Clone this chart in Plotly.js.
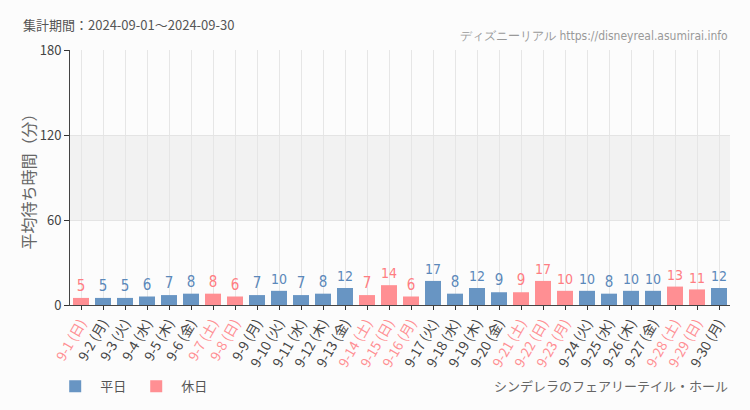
<!DOCTYPE html>
<html><head><meta charset="utf-8">
<script src="https://cdn.plot.ly/plotly-3.0.1.min.js"></script>
<style>body{margin:0;background:#fcfcfc}#c{width:750px;height:410px}</style>
</head><body><div id="c"></div>
<script>
const dates = ["9-1","9-2","9-3","9-4","9-5","9-6","9-7","9-8","9-9","9-10","9-11","9-12","9-13","9-14","9-15","9-16","9-17","9-18","9-19","9-20","9-21","9-22","9-23","9-24","9-25","9-26","9-27","9-28","9-29","9-30"];
const weekdays = ["日","月","火","水","木","金","土","日","月","火","水","木","金","土","日","月","火","水","木","金","土","日","月","火","水","木","金","土","日","月"];
const holiday = [1,0,0,0,0,0,1,1,0,0,0,0,0,1,1,1,0,0,0,0,1,1,1,0,0,0,0,1,1,0];
const waits = [5,5,5,6,7,8,8,6,7,10,7,8,12,7,14,6,17,8,12,9,9,17,10,10,8,10,10,13,11,12];
const yTicks = [0,60,120,180];

const BLUE = "#6895c3", PINK = "#ff8f93", BLUE_T = "#5b88ba", PINK_T = "#ff7d82";
const labels = dates.map((d,i)=>{
  const col = holiday[i] ? PINK : "#444";
  return `<span style="color:${col}">${d} (${weekdays[i]})</span>`;
});
function series(flag){
  return waits.map((v,i)=> holiday[i]===flag ? v : null);
}
const font = "'Noto Sans CJK JP', 'Noto Sans', sans-serif";
const numFont = "'DejaVu Sans Condensed', 'Liberation Sans Narrow', sans-serif";
const mk = (flag,name,color,tcolor)=>({
  type:"bar", x:dates, y:series(flag), name:name,
  marker:{color:color},
  text:series(flag).map(v=>v===null?"":String(v)),
  textposition:"outside", cliponaxis:false,
  textfont:{family:numFont,size:15,color:tcolor},
  hoverinfo:"skip"
});
const data = [mk(0,"平日",BLUE,BLUE_T), mk(1,"休日",PINK,PINK_T)];
const layout = {
  width:750,height:410,
  margin:{l:70,r:20,t:50,b:105,autoexpand:false},
  paper_bgcolor:"#fcfcfc", plot_bgcolor:"#fcfcfc",
  barmode:"overlay", bargap:0.27,
  showlegend:true,
  legend:{orientation:"h",x:-0.03,y:-0.26,xanchor:"left",yanchor:"top",
          font:{family:font,size:13,color:"#555"},itemwidth:40,tracegroupgap:0},
  xaxis:{type:"category",tickmode:"array",tickvals:dates,ticktext:labels,automargin:false,
         tickangle:-60,tickfont:{family:font,size:13.5},ticks:"outside",ticklen:4,
         tickcolor:"#333",showline:true,linecolor:"#444",linewidth:1,
         showgrid:true,gridcolor:"#e6e6e6",range:[-0.5,29.5]},
  yaxis:{range:[0,180],tickvals:yTicks,ticks:"outside",ticklen:5,tickcolor:"#333",automargin:false,
         showline:true,linecolor:"#444",linewidth:1,showgrid:true,gridcolor:"#e4e4e4",
         tickfont:{family:font,size:13,color:"#444"},zeroline:false,
         title:{text:"平均待ち時間（分）",font:{family:font,size:16,color:"#666"},standoff:0}},
  shapes:[{type:"rect",xref:"paper",x0:0,x1:1,yref:"y",y0:60,y1:120,
           fillcolor:"#f2f2f2",line:{width:0},layer:"below"}],
  annotations:[
    {text:"集計期間：2024-09-01～2024-09-30",xref:"paper",yref:"paper",x:-0.075,y:1.1,
     xanchor:"left",yanchor:"middle",showarrow:false,font:{family:font,size:13,color:"#555"}},
    {text:"ディズニーリアル https://disneyreal.asumirai.info",xref:"paper",yref:"paper",x:1,y:1.02,
     xanchor:"right",yanchor:"bottom",showarrow:false,font:{family:numFont,size:12,color:"#999"}},
    {text:"シンデレラのフェアリーテイル・ホール",xref:"paper",yref:"paper",x:1,y:-0.27,
     xanchor:"right",yanchor:"top",showarrow:false,font:{family:font,size:13,color:"#666"}}
  ]
};
Plotly.newPlot("c",data,layout,{staticPlot:true});
</script></body></html>
